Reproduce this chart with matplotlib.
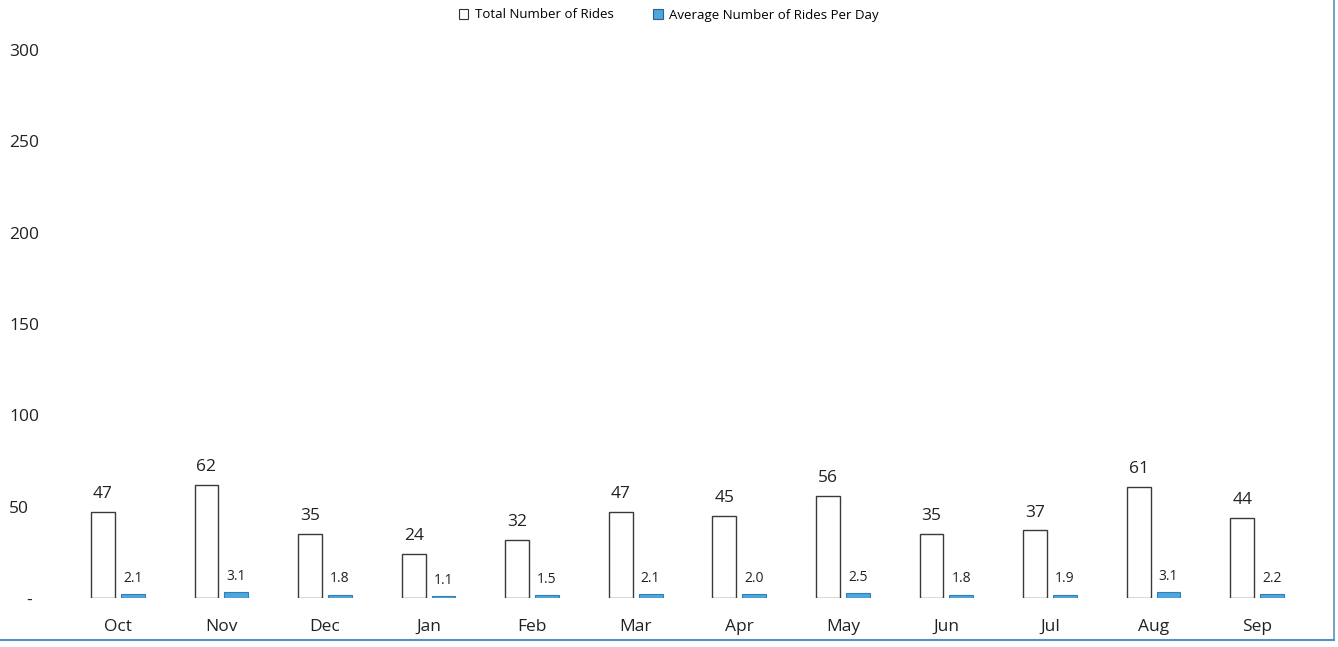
import numpy as np
import matplotlib
matplotlib.use("Agg")
import matplotlib.pyplot as plt
from matplotlib.patches import Patch
from matplotlib.lines import Line2D

months = ["Oct", "Nov", "Dec", "Jan", "Feb", "Mar", "Apr", "May", "Jun", "Jul", "Aug", "Sep"]
total_rides = [47, 62, 35, 24, 32, 47, 45, 56, 35, 37, 61, 44]
avg_per_day = [2.1, 3.1, 1.8, 1.1, 1.5, 2.1, 2.0, 2.5, 1.8, 1.9, 3.1, 2.2]
y_ticks = [0, 50, 100, 150, 200, 250, 300]
y_tick_labels = ["    -", "50", "100", "150", "200", "250", "300"]

plt.rcParams['font.family'] = ['Open Sans', 'DejaVu Sans']

W, H = 1338, 647
fig = plt.figure(figsize=(W / 100, H / 100), dpi=100)

# axes placed in pixel terms
left, right, top, bottom = 66, 1309, 50, 598
ax = fig.add_axes([left / W, (H - bottom) / H, (right - left) / W, (bottom - top) / H])

x = np.arange(len(months))
w = 0.23
off = 0.144

ax.bar(x - off, total_rides, width=w, facecolor='white', edgecolor='#3a3a3a', linewidth=1.0)
ax.bar(x + off, avg_per_day, width=w, facecolor='#4fa6dc', edgecolor='#2f7fb8', linewidth=0.8)

for xi, v in zip(x, total_rides):
    ax.annotate(f"{v}", (xi - off, v), xytext=(0, 7), textcoords='offset points',
                ha='center', va='bottom', fontsize=12.5, color='#222222')
for xi, v in zip(x, avg_per_day):
    ax.annotate(f"{v:.1f}", (xi + off, v), xytext=(0, 6), textcoords='offset points',
                ha='center', va='bottom', fontsize=10, color='#222222')

ax.set_xlim(-0.5, len(months) - 0.5)
ax.set_ylim(0, 300)
ax.set_xticks(x)
ax.set_xticklabels(months, fontsize=12.5, color='#222222')
ax.set_yticks(y_ticks)
ax.set_yticklabels(y_tick_labels, fontsize=12.5, color='#222222')
for lab in ax.get_yticklabels():
    lab.set_horizontalalignment('left')
ax.tick_params(axis='y', length=0, pad=41)
ax.tick_params(axis='x', length=0, pad=15)
for s in ax.spines.values():
    s.set_visible(False)

handles = [Patch(facecolor='white', edgecolor='#333333', linewidth=0.8),
           Patch(facecolor='#4fa6dc', edgecolor='#2f5f8a', linewidth=0.8)]
fig.legend(handles, ["Total Number of Rides", "Average Number of Rides Per Day"],
           loc='center', bbox_to_anchor=(0.5, 1 - 15 / H), ncol=2, frameon=False,
           fontsize=9.5, handlelength=0.7, handleheight=0.7, handletextpad=0.5,
           columnspacing=3.0)

# scanned page border
fig.add_artist(Line2D([0, 1334 / W], [1 - 640 / H, 1 - 640 / H], color='#5b8fc4', linewidth=1.5))
fig.add_artist(Line2D([1334 / W, 1334 / W], [1 - 640 / H, 1], color='#5b8fc4', linewidth=1.2))

fig.savefig("out.png", dpi=100, facecolor='white')
